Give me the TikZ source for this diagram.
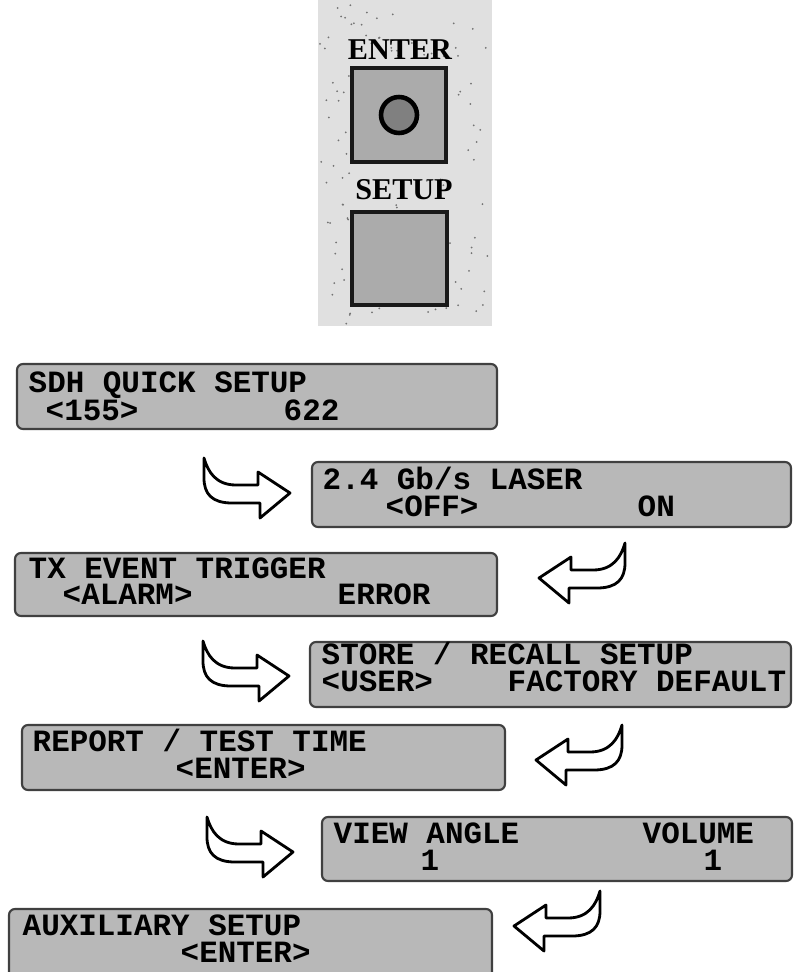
\documentclass[tikz,border=0pt]{standalone}
\usepackage{fontspec}
\newfontfamily\lcdfont{Liberation Mono}
\newfontfamily\keyfont{Liberation Serif}
\usepackage{tikz}

\begin{document}
\begin{tikzpicture}[x=0.1mm,y=-0.1mm,
    lcd/.style={draw=black!75,line width=0.6pt,fill=black!28,rounded corners=0.6mm},
    txt/.style={inner sep=0pt,anchor=base west,font=\lcdfont\bfseries\fontsize{8.8}{10}\selectfont},
    key/.style={draw=black!90,line width=1.3pt,fill=black!33},
    keylabel/.style={inner sep=0pt,anchor=base,font=\keyfont\bfseries\fontsize{8.6}{10}\selectfont},
    flow/.style={draw=black,line width=0.8pt,fill=white,line join=round}]
  \useasboundingbox (0,0) rectangle (793,972);
  % front panel
  \fill[black!12] (318,0) rectangle (492,326);
  \pgfmathsetseed{7}
  \foreach \i in {1,...,140}
    \fill[black!55] ({320+170*rnd},{2+322*rnd}) circle (0.1mm);
  \node[keylabel] (enterlbl) at (400,60) {ENTER};
  \draw[key] (352,68) rectangle (446,162);
  \draw[line width=1.3pt,fill=black!50] (399,115) circle (1.8mm);
  \node[keylabel] (setuplbl) at (404,200) {SETUP};
  \draw[key] (352,212) rectangle (447,305);
  % displays
  \draw[lcd] (17,364) rectangle (497,429);
  \node[txt] (sdh) at (28,392) {SDH QUICK SETUP};
  \node[txt] (sdha) at (45,420) {<155>};
  \node[txt] (sdhb) at (283,420) {622};
  \draw[lcd] (312,462) rectangle (791,527);
  \node[txt] (laser) at (322,489) {2.4 Gb/s LASER};
  \node[txt] (lasera) at (385,516) {<OFF>};
  \node[txt] (laserb) at (637,516) {ON};
  \draw[lcd] (15,553) rectangle (497,616);
  \node[txt] (trig) at (28,578) {TX EVENT TRIGGER};
  \node[txt] (triga) at (62,604) {<ALARM>};
  \node[txt] (trigb) at (337,604) {ERROR};
  \draw[lcd] (310,642) rectangle (791,707);
  \node[txt] (store) at (321,664) {STORE / RECALL SETUP};
  \node[txt] (storea) at (321,691) {<USER>};
  \node[txt] (storeb) at (507,691) {FACTORY DEFAULT};
  \draw[lcd] (22,725) rectangle (505,790);
  \node[txt] (report) at (32,751) {REPORT / TEST TIME};
  \node[txt] (reporta) at (175,778) {<ENTER>};
  \draw[lcd] (322,817) rectangle (792,881);
  \node[txt] (view) at (333,843) {VIEW ANGLE};
  \node[txt] (viewa) at (420,870) {1};
  \node[txt] (vol) at (642,843) {VOLUME};
  \node[txt] (vola) at (703,870) {1};
  \draw[lcd] (9,909) rectangle (492,980);
  \node[txt] (aux) at (22,935) {AUXILIARY SETUP};
  \node[txt] (auxa) at (180,962) {<ENTER>};
  % flow arrows
  \foreach \ax/\ay/\fl in {204/458/1, 203/641/1, 207/817/1, 625/543/-1, 622/725/-1, 600/891/-1}
    \draw[flow,shift={(\ax,\ay)},xscale=\fl] (0,0) .. controls (4,14) and (12,27) .. (32,27)
      -- (54,27) -- (54,14) -- (86,35) -- (56,60) -- (56,45) -- (28,45)
      .. controls (8,45) and (0,36) .. (0,20) -- cycle;
\end{tikzpicture}
\end{document}
